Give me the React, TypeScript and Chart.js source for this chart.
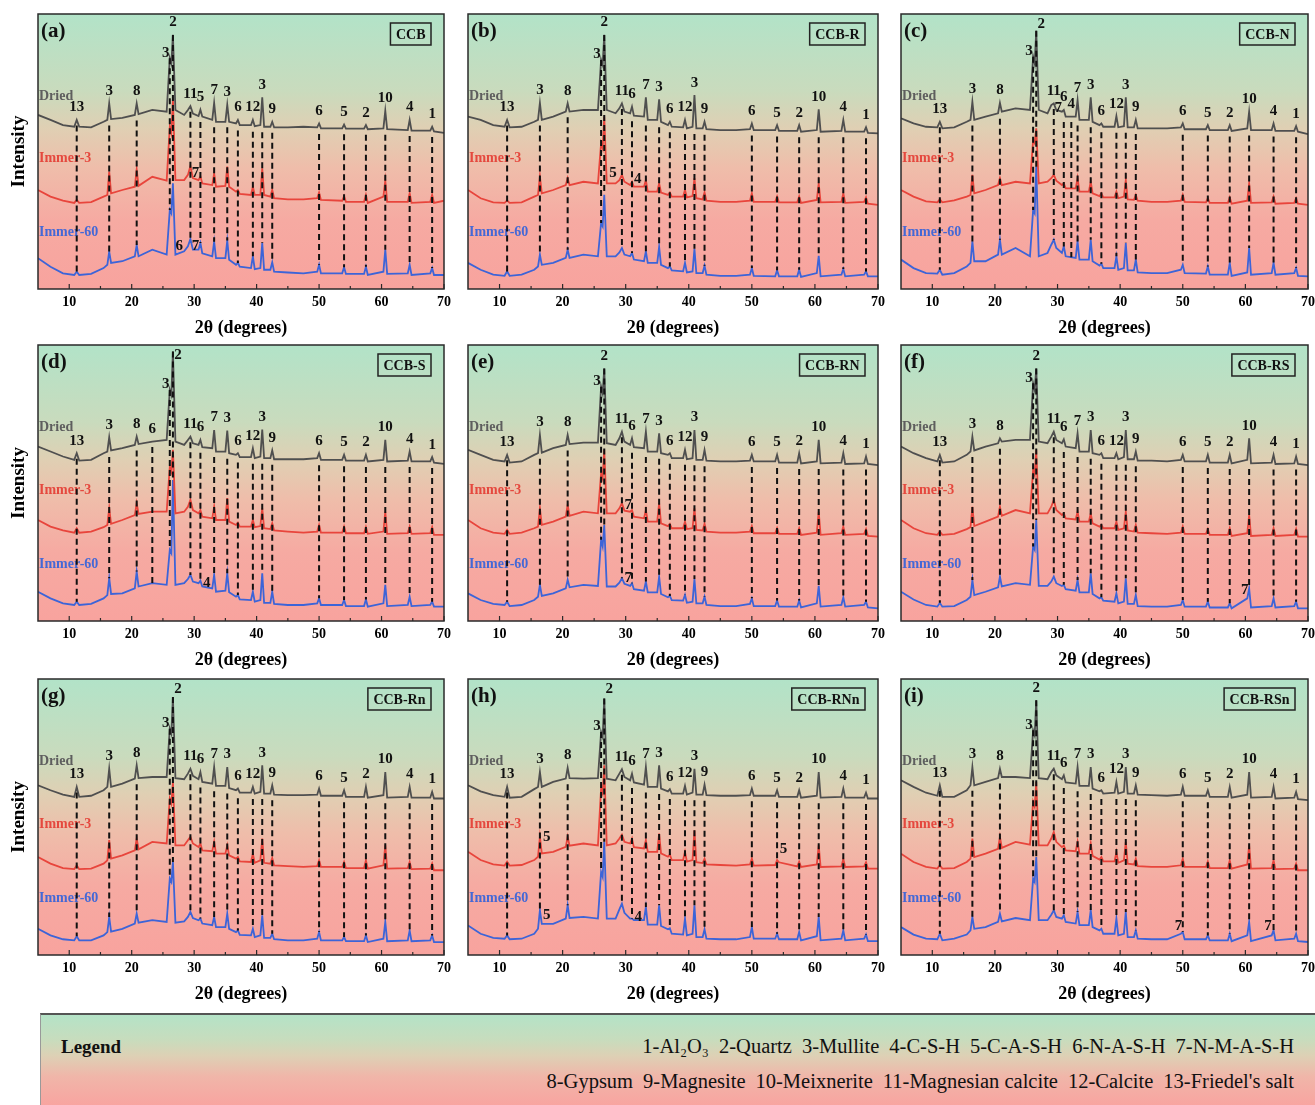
import React, { useEffect, useRef } from "react";
import { Chart, registerables } from "chart.js";

Chart.register(...registerables);

const SERIF = '"Liberation Serif", "Times New Roman", serif';

// 2θ sample positions (degrees)
const twoTheta = [5, 7, 9, 10.8, 11.2, 11.6, 13.5, 15.5, 16.1, 16.4, 16.7, 18.5, 20.5, 20.8, 21.1, 23.3, 25.6, 26.1, 26.35, 26.6, 27.0, 28.4, 29.0, 29.4, 29.8, 30.7, 31.0, 31.3, 32.9, 33.2, 33.5, 35.0, 35.3, 35.6, 36.7, 37.0, 37.3, 39.1, 39.4, 39.7, 40.6, 40.9, 41.2, 42.2, 42.5, 42.8, 45, 47.5, 49.7, 50.0, 50.3, 53.7, 54.0, 54.3, 57.2, 57.5, 57.8, 60.3, 60.6, 60.9, 64.2, 64.5, 64.8, 67.8, 68.1, 68.4, 70];

// (a) CCB
const driedA = [63.3,61.5,59.6, 59.0,61.5,59.0, 58.8,60.8, 61.5,67.5,61.8, 62.2, 63.3,67.5,63.6, 65.1,64.5, 83.9,82.0,92.4,65.1, 63.3, 65.1,66.5,63.8, 62.9,65.2,62.7, 61.5,67.7,60.8, 60.8,67.0,60.8, 60.2,61.5,59.6, 59.6,61.5,59.2, 59.6,69.7,59.0, 59.0,60.8,58.8, 58.8,59.0, 58.8,60.2,58.4, 58.4,59.8,58.3, 58.3,59.6,58.1, 58.4,64.8,58.1, 57.8,61.5,57.6, 57.6,59.0,57.3, 56.8];
const immer3A = [36.0,33.6,32.1, 31.3,32.4,31.3, 31.6,33.6, 34.2,42.7,34.8, 36.0, 37.2,43.5,37.5, 40.8,39.4, 59.0,56.7,69.3,39.6, 39.6, 41.5,44.7,40.3, 39.6,41.0,38.4, 37.8,42.0,37.2, 37.5,44.5,37.2, 35.4,36.0,34.6, 34.2,37.2,34.2, 34.2,43.9,34.2, 33.6,36.0,33.0, 32.6,32.6, 33.0,35.1,32.4, 32.1,33.8,31.7, 31.7,34.2,31.3, 33.6,39.4,31.7, 31.7,34.8,31.3, 31.7,34.2,31.3, 32.1];
const immer60A = [11.2,8.1,5.7, 5.1,6.3,5.1, 5.5,7.6, 8.8,13.6,9.5, 10.1, 11.9,16.0,11.9, 14.3,12.5, 28.7,27.5,38.4,12.5, 13.7, 15.5,18.2,14.3, 14.3,16.7,13.0, 11.9,17.2,11.2, 11.2,17.6,10.6, 8.8,9.5,8.1, 7.6,11.9,7.2, 7.6,16.7,7.0, 7.0,9.7,6.3, 6.0,5.7, 6.3,8.8,5.7, 5.7,7.9,5.5, 5.5,8.1,5.1, 6.3,14.3,5.5, 5.7,8.8,5.1, 5.7,7.6,5.1, 5.1];

// (b) CCB-R
const driedB = [62.7,61.5,59.6, 59.0,61.5,58.8, 59.0,60.8, 61.5,67.7,61.5, 62.7, 64.5,67.5,64.5, 65.1,65.1, 83.3,81.5,92.4,65.1, 63.9, 65.7,67.5,64.5, 63.9,66.3,63.0, 62.7,69.7,61.5, 61.5,69.0,60.8, 59.6,60.8,59.0, 58.8,61.5,58.4, 59.0,70.5,58.4, 58.4,60.8,58.1, 57.8,57.8, 58.1,60.2,57.8, 57.8,59.6,57.5, 57.5,59.6,57.2, 57.8,65.3,57.2, 57.5,61.5,57.2, 57.2,58.8,56.8, 56.6];
const immer3B = [36.0,33.0,31.5, 31.3,32.2,31.3, 31.5,33.6, 34.2,40.9,34.8, 36.0, 37.8,40.3,37.8, 39.0,38.4, 53.0,51.2,62.7,38.4, 38.4, 39.6,41.5,39.0, 37.8,39.0,37.2, 37.2,39.6,35.4, 35.4,38.4,35.1, 34.2,35.1,33.6, 33.6,36.0,33.3, 33.8,40.3,33.0, 32.6,35.1,32.1, 31.7,31.7, 32.1,34.8,31.7, 31.7,33.6,31.5, 31.5,33.6,31.3, 32.4,38.4,31.5, 31.7,34.8,31.3, 31.7,33.3,31.0, 30.6];
const immer60B = [9.5,7.0,5.2, 4.8,6.4,4.8, 5.2,7.0, 8.2,12.5,8.8, 9.5, 11.3,14.3,11.3, 12.5,11.9, 24.0,22.8,34.3,11.9, 11.9, 13.3,14.9,12.5, 11.9,13.1,10.7, 10.1,13.7,9.5, 9.5,15.3,8.8, 7.6,8.2,6.8, 6.4,9.5,6.0, 6.4,14.6,5.8, 5.8,8.5,5.2, 4.8,4.8, 5.2,7.6,4.8, 4.6,6.8,4.6, 4.6,7.0,4.4, 5.8,12.1,4.6, 5.2,7.3,4.6, 5.2,6.4,4.6, 4.6];

// (c) CCB-N
const driedC = [62.1,60.2,59.0, 58.8,60.8,58.4, 58.8,60.8, 61.5,68.1,61.5, 62.7, 63.9,67.7,64.5, 65.7,65.1, 84.5,82.0,93.9,65.1, 63.9, 66.9,67.5,65.1, 64.5,65.1,62.7, 62.7,68.7,61.5, 61.5,69.7,60.8, 59.6,60.2,59.0, 59.0,62.9,58.8, 59.2,69.7,58.8, 58.8,61.5,58.4, 58.4,58.4, 58.8,60.2,58.1, 58.1,59.6,57.8, 57.8,59.6,57.5, 58.4,64.5,57.8, 57.8,60.2,57.5, 57.5,59.2,57.2, 56.3];
const immer3C = [36.0,33.6,31.9, 31.5,32.6,31.5, 32.2,33.6, 34.2,41.5,34.8, 36.0, 37.8,40.3,37.8, 39.0,38.4, 54.2,53.0,58.4,38.4, 39.0, 40.3,41.5,39.4, 37.8,38.4,36.6, 36.6,40.3,35.4, 35.4,39.0,34.8, 33.8,34.8,33.3, 33.3,35.4,33.0, 33.6,39.6,32.6, 32.4,34.2,32.1, 31.7,31.7, 32.1,34.2,31.7, 31.5,33.0,31.3, 31.3,33.3,31.0, 32.1,38.4,31.3, 31.5,33.6,31.0, 31.3,33.0,31.0, 30.6];
const immer60C = [10.7,7.6,5.8, 5.6,7.0,5.2, 5.8,8.2, 9.5,17.3,10.1, 10.1, 12.5,17.9,12.5, 14.9,11.9, 28.7,27.5,44.5,11.9, 13.1, 16.1,17.9,14.9, 13.1,15.5,11.9, 11.3,17.3,10.7, 10.7,17.9,10.1, 8.5,9.2,7.6, 7.6,11.9,7.0, 7.6,16.7,6.8, 6.8,10.7,6.0, 5.8,5.8, 7.0,8.8,5.8, 5.6,8.2,5.2, 5.2,9.5,4.8, 6.0,14.9,5.2, 5.8,9.5,5.2, 5.8,7.6,4.8, 4.6];

// (d) CCB-S
const driedD = [63.2,61.4,59.6, 58.4,60.8,58.1, 58.4,60.8, 61.4,66.6,61.8, 62.6, 63.8,66.8,64.1, 65.0,65.6, 83.7,81.9,97.6,65.0, 63.8, 65.6,66.8,64.4, 63.8,65.6,63.0, 62.6,69.2,61.4, 61.4,69.0,60.8, 60.2,60.8,59.4, 59.4,62.6,59.0, 59.6,69.4,59.0, 59.0,61.8,58.6, 58.6,58.6, 59.0,60.8,58.4, 58.4,60.2,58.1, 58.1,60.2,57.8, 58.4,65.6,57.8, 58.1,61.4,57.8, 57.8,59.4,57.4, 56.9];
const immer3D = [36.6,34.2,32.8, 32.0,33.6,32.0, 32.4,34.0, 34.8,40.8,35.2, 36.6, 38.4,42.7,38.8, 39.6,39.6, 55.9,54.1,62.0,39.0, 39.6, 41.4,43.9,40.2, 39.0,40.2,37.8, 37.2,41.4,36.6, 36.6,44.5,36.0, 34.8,35.6,34.2, 34.2,36.6,34.0, 34.4,40.8,33.6, 33.3,35.4,32.8, 32.4,32.0, 32.4,34.8,32.0, 32.0,34.2,31.8, 31.8,34.0,31.6, 32.4,39.6,31.6, 31.8,34.2,31.6, 31.8,34.0,31.2, 31.2];
const immer60D = [10.6,8.2,6.4, 5.8,7.0,5.8, 6.2,8.2, 9.4,15.5,9.8, 10.0, 11.8,17.9,12.5, 13.7,13.1, 25.8,24.6,51.1,13.1, 13.7, 15.2,16.7,14.3, 13.7,14.6,12.5, 11.8,16.7,10.6, 11.0,17.3,10.4, 8.8,9.4,7.8, 7.6,10.6,7.0, 7.6,17.3,6.6, 6.6,10.6,6.2, 5.8,5.8, 6.4,8.2,5.8, 5.8,7.6,5.4, 5.4,7.8,5.2, 6.4,13.1,5.4, 5.8,8.8,5.4, 5.8,7.0,5.2, 5.2];

// (e) CCB-RN
const driedE = [62.0,60.2,58.4, 57.8,60.2,57.4, 57.8,60.2, 60.8,67.4,61.0, 62.6, 63.8,67.4,64.1, 64.6,64.6, 84.9,82.5,91.5,64.4, 63.8, 66.2,68.6,65.0, 63.8,66.2,63.0, 62.6,68.6,61.4, 61.4,68.0,60.8, 60.2,60.8,59.0, 59.0,62.0,58.6, 59.0,69.2,58.4, 58.4,62.0,58.1, 57.8,57.8, 58.1,60.2,57.8, 57.8,60.2,57.4, 57.4,60.8,57.1, 57.8,65.6,57.1, 57.4,60.8,56.9, 57.1,59.6,56.9, 56.5];
const immer3E = [36.6,33.6,32.0, 31.6,33.0,31.6, 32.0,33.6, 34.2,40.8,34.8, 36.0, 37.8,42.1,38.1, 39.6,39.0, 53.5,51.6,62.0,39.0, 39.0, 40.8,42.7,40.0, 39.6,40.2,37.8, 37.2,40.2,36.0, 36.0,42.7,35.4, 34.4,35.2,33.6, 33.6,36.0,33.3, 33.6,40.8,33.0, 32.8,35.2,32.4, 32.0,32.0, 32.4,34.4,31.8, 31.8,33.6,31.6, 31.6,33.6,31.2, 32.0,39.6,31.2, 31.8,34.2,31.2, 31.6,33.3,30.8, 30.6];
const immer60E = [10.0,7.6,6.2, 5.8,7.0,5.4, 5.8,7.6, 8.8,13.1,9.1, 10.0, 11.8,14.9,12.2, 13.1,12.7, 29.4,27.0,34.8,12.5, 12.5, 13.9,15.5,13.5, 12.7,13.7,11.5, 11.0,14.3,10.4, 10.4,16.1,9.8, 8.6,9.1,7.6, 7.4,9.4,6.6, 7.0,15.2,6.4, 6.4,8.8,5.8, 5.4,5.4, 6.2,8.2,5.4, 5.4,7.4,5.2, 5.2,7.4,4.9, 6.4,12.7,5.2, 5.8,8.6,5.2, 5.8,7.0,4.9, 4.6];

// (f) CCB-RS
const driedF = [63.2,60.8,59.0, 57.8,60.2,57.4, 57.8,60.2, 61.4,66.8,61.8, 63.2, 64.4,66.2,65.0, 65.6,65.6, 86.1,83.7,91.5,65.0, 64.4, 66.8,68.6,65.6, 64.4,65.8,63.2, 62.6,68.0,61.4, 61.4,69.2,60.8, 60.2,60.8,59.0, 59.0,60.8,58.6, 59.4,69.2,58.6, 58.6,61.4,58.1, 58.1,57.8, 58.4,60.2,57.8, 57.8,60.2,57.4, 57.4,60.2,57.1, 58.4,66.2,57.1, 57.4,60.2,56.9, 57.1,59.6,56.9, 56.5];
const immer3F = [36.6,33.6,31.8, 31.2,32.4,31.2, 31.6,33.3, 34.0,41.4,34.4, 36.0, 37.8,41.4,38.1, 40.2,39.0, 54.7,52.9,62.0,39.0, 39.0, 41.4,43.9,40.2, 38.4,39.0,37.2, 36.8,39.6,36.0, 36.0,39.0,35.4, 34.2,34.8,33.6, 33.6,36.0,33.0, 33.6,39.6,32.8, 32.4,34.8,32.0, 31.8,31.6, 32.0,34.2,31.6, 31.6,33.3,31.2, 31.2,33.6,30.8, 31.8,38.4,30.8, 31.2,33.6,30.8, 31.2,33.3,30.6, 30.6];
const immer60F = [10.6,7.8,5.8, 5.2,6.6,5.2, 5.4,7.6, 8.8,14.9,9.4, 10.6, 12.2,16.1,12.5, 13.7,13.1, 27.0,25.8,36.6,12.7, 12.7, 14.3,16.1,13.7, 12.7,13.1,11.5, 11.0,14.9,10.4, 10.4,17.3,9.8, 8.2,8.6,7.4, 7.0,10.0,6.4, 7.0,15.5,6.2, 6.2,9.4,5.4, 5.2,5.2, 5.8,7.6,5.2, 5.2,7.0,4.9, 4.9,6.4,4.6, 8.2,11.8,4.9, 5.4,8.2,4.9, 5.4,7.0,4.6, 4.6];

// (g) CCB-Rn
const driedG = [61.5,59.7,58.1, 57.3,60.9,57.3, 57.7,59.7, 60.9,67.5,60.9, 62.1, 63.9,68.7,64.1, 64.5,64.5, 82.0,80.2,93.5,64.1, 63.7, 65.7,67.5,64.9, 63.7,66.3,62.7, 62.1,68.1,61.3, 61.3,68.1,60.5, 59.7,60.3,58.8, 58.8,60.9,58.5, 59.1,68.7,58.5, 58.5,61.5,58.1, 57.9,57.9, 58.1,60.3,57.7, 57.7,59.7,57.3, 57.3,60.9,57.0, 57.9,66.3,57.0, 57.3,60.9,57.0, 57.0,59.1,56.7, 56.7];
const immer3G = [35.5,33.1,31.5, 31.1,32.5,31.1, 31.3,33.1, 34.3,41.6,34.9, 36.1, 37.9,42.2,38.3, 41.0,40.4, 56.7,54.9,62.7,39.7, 39.7, 41.6,42.8,40.4, 39.1,40.4,37.9, 37.6,41.0,36.7, 36.7,39.7,36.1, 34.9,35.5,33.9, 33.7,36.7,33.4, 34.3,42.2,33.4, 33.1,35.1,32.5, 32.2,31.9, 32.2,34.3,31.9, 31.9,33.7,31.5, 31.5,34.3,31.3, 32.5,39.7,31.3, 31.5,33.7,31.1, 31.3,33.1,30.7, 30.7];
const immer60G = [9.5,7.1,5.7, 5.3,6.8,5.3, 5.3,7.1, 8.3,13.8,8.5, 9.5, 11.4,15.0,11.7, 12.6,12.0, 27.7,26.5,33.7,11.7, 12.2, 13.8,15.6,13.4, 12.6,13.2,11.4, 10.8,13.8,10.1, 10.1,15.0,9.5, 8.3,8.9,7.3, 7.1,9.5,6.5, 7.1,14.4,6.2, 6.2,7.7,5.7, 5.3,5.3, 5.9,8.3,5.3, 5.3,6.5,5.0, 5.0,7.1,4.7, 5.9,12.0,5.0, 5.3,8.9,5.0, 5.3,7.1,4.7, 4.7];

// (h) CCB-RNn
const driedH = [61.5,59.3,57.9, 57.3,60.9,57.0, 57.3,60.1, 60.9,66.3,60.9, 62.7, 63.9,67.8,64.1, 63.9,64.1, 80.8,79.0,92.9,63.9, 63.3, 65.7,67.3,64.5, 63.3,65.7,62.5, 61.7,68.1,60.9, 60.9,68.7,60.3, 59.3,60.1,58.5, 58.5,61.3,58.1, 58.8,67.5,58.1, 58.1,61.7,57.9, 57.7,57.7, 57.9,60.3,57.7, 57.7,59.7,57.3, 57.3,59.7,57.0, 57.7,66.3,57.0, 57.3,60.3,57.0, 57.0,58.8,56.7, 56.7];
const immer3H = [37.4,34.4,32.8, 32.4,33.8,32.4, 32.6,34.4, 35.6,42.8,36.8, 37.4, 39.2,42.8,39.6, 40.4,39.7, 60.3,58.5,68.7,39.7, 40.4, 42.2,43.6,41.0, 40.4,42.2,39.1, 38.6,41.6,37.4, 37.4,44.0,36.8, 35.6,36.4,34.4, 34.4,37.4,33.8, 34.4,45.2,33.6, 33.3,34.9,32.8, 32.6,32.4, 32.8,34.9,32.4, 32.6,34.4,33.6, 32.1,33.8,31.9, 32.8,39.7,31.9, 32.1,34.8,31.9, 32.1,33.6,31.3, 31.3];
const immer60H = [10.7,7.7,6.2, 5.9,7.1,5.7, 5.9,7.7, 9.5,16.2,11.3, 11.3, 13.2,18.0,13.4, 13.8,13.2, 30.1,28.3,41.0,13.2, 13.2, 16.5,18.6,15.3, 13.2,13.2,12.6, 12.6,17.4,11.0, 11.0,18.0,10.5, 9.3,9.7,7.7, 7.4,13.2,7.1, 7.7,18.0,6.5, 6.5,9.3,5.9, 5.7,5.7, 6.5,10.1,5.9, 5.9,7.7,5.7, 5.7,8.3,5.3, 6.8,13.8,5.3, 5.9,8.9,5.3, 5.9,7.4,5.0, 5.0];

// (i) CCB-RSn
const driedI = [63.3,60.9,58.8, 57.7,61.5,57.3, 57.3,59.7, 61.5,68.1,61.5, 62.7, 64.1,67.5,64.5, 64.5,64.1, 81.4,79.6,92.3,64.1, 63.7, 66.3,67.5,65.1, 63.7,65.1,62.5, 62.1,68.1,61.3, 61.3,68.1,60.3, 59.3,59.7,58.5, 58.8,62.7,58.5, 59.1,68.1,58.5, 58.5,61.5,58.1, 57.9,57.7, 58.1,60.9,57.7, 57.7,59.7,57.3, 57.3,60.9,57.0, 58.1,66.3,57.0, 57.3,60.9,56.7, 57.0,59.1,56.5, 56.1];
const immer3I = [36.7,33.7,31.9, 31.3,32.5,31.3, 31.5,33.7, 34.9,42.2,35.5, 36.7, 38.5,42.8,38.8, 41.0,40.0, 55.5,53.7,62.7,39.7, 39.7, 42.2,44.6,41.0, 39.1,39.7,37.9, 37.6,41.0,36.7, 36.7,40.4,35.9, 34.6,35.5,33.9, 33.9,37.3,33.4, 34.3,41.0,33.1, 32.8,34.9,32.2, 31.9,31.9, 32.5,34.9,31.9, 31.9,33.9,31.5, 31.5,34.3,31.3, 32.8,39.7,31.3, 31.5,34.3,31.1, 31.3,33.1,30.7, 30.7];
const immer60I = [10.1,7.4,5.9, 5.7,7.7,5.3, 5.9,7.4, 8.9,13.8,9.5, 10.1, 12.0,15.0,12.2, 13.4,12.6, 27.7,26.5,35.5,12.6, 12.6, 14.6,16.2,13.8, 13.2,14.4,12.0, 11.4,15.6,10.8, 10.8,16.2,10.1, 8.9,9.5,7.7, 7.7,13.2,7.1, 7.7,15.6,6.5, 6.5,8.9,5.9, 5.7,5.7, 7.7,8.3,5.7, 5.7,7.1,5.3, 5.3,7.7,5.0, 7.1,12.0,5.0, 7.1,8.9,5.3, 5.9,7.7,5.0, 4.7];

const panelLetters = ["(a)", "(b)", "(c)", "(d)", "(e)", "(f)", "(g)", "(h)", "(i)"];
const sampleNames = ["CCB", "CCB-R", "CCB-N", "CCB-S", "CCB-RN", "CCB-RS", "CCB-Rn", "CCB-RNn", "CCB-RSn"];
const seriesNames = ["Dried", "Immer-3", "Immer-60"];
const xTickValues = [10, 20, 30, 40, 50, 60, 70];
const xMinorTickValues = [15, 25, 35, 45, 55, 65];

// reflection markers (2θ) and phase numbers
const markerPositions = [11.2, 16.4, 20.8, 26.1, 26.6, 29.4, 31.0, 33.2, 35.3, 37.0, 39.4, 40.9, 42.5, 50.0, 54.0, 57.5, 60.6, 64.5, 68.1];
const markerNumbersA = ["13", "3", "8", "3", "2", "11", "5", "7", "3", "6", "12", "3", "9", "6", "5", "2", "10", "4", "1"];
const markerNumbers = ["13", "3", "8", "3", "2", "11", "6", "7", "3", "6", "12", "3", "9", "6", "5", "2", "10", "4", "1"];
const extraMarkersC: [number, string][] = [[32.2, "4"]];
const extraMarkersD: [number, string][] = [[23.3, "6"]];

// phase notes next to the immersed traces: [2θ, intensity, number]
const notesA: [number, number, string][] = [[30.2, 42.3, "7"], [27.6, 15.5, "6"], [30.2, 15.5, "7"]];
const notesB: [number, number, string][] = [[28.0, 42.1, "5"], [31.9, 39.8, "4"]];
const notesC: [number, number, string][] = [[30.1, 65.6, "7"]];
const notesD: [number, number, string][] = [[32.0, 13.9, "4"]];
const notesE: [number, number, string][] = [[30.4, 42.0, "7"], [30.4, 15.5, "7"]];
const notesF: [number, number, string][] = [[59.9, 11.2, "7"]];
const notesG: [number, number, string][] = [];
const notesH: [number, number, string][] = [[17.5, 42.8, "5"], [55.0, 38.5, "5"], [17.5, 14.4, "5"], [32.0, 13.8, "4"]];
const notesI: [number, number, string][] = [[49.3, 10.5, "7"], [63.6, 10.5, "7"]];

const legendLine1 = ["1-Al\u2082O\u2083", "2-Quartz", "3-Mullite", "4-C-S-H", "5-C-A-S-H", "6-N-A-S-H", "7-N-M-A-S-H"];
const legendLine2 = ["8-Gypsum", "9-Magnesite", "10-Meixnerite", "11-Magnesian calcite", "12-Calcite", "13-Friedel's salt"];

const zipMarkers = (labels: string[], extra: [number, string][] = []) =>
  [...markerPositions.map((x, i) => [x, labels[i]] as [number, string]), ...extra];

const panels = [
  { series: [driedA, immer3A, immer60A], markers: zipMarkers(markerNumbersA), notes: notesA },
  { series: [driedB, immer3B, immer60B], markers: zipMarkers(markerNumbers), notes: notesB },
  { series: [driedC, immer3C, immer60C], markers: zipMarkers(markerNumbers, extraMarkersC), notes: notesC },
  { series: [driedD, immer3D, immer60D], markers: zipMarkers(markerNumbers, extraMarkersD), notes: notesD },
  { series: [driedE, immer3E, immer60E], markers: zipMarkers(markerNumbers), notes: notesE },
  { series: [driedF, immer3F, immer60F], markers: zipMarkers(markerNumbers), notes: notesF },
  { series: [driedG, immer3G, immer60G], markers: zipMarkers(markerNumbers), notes: notesG },
  { series: [driedH, immer3H, immer60H], markers: zipMarkers(markerNumbers), notes: notesH },
  { series: [driedI, immer3I, immer60I], markers: zipMarkers(markerNumbers), notes: notesI },
];

// layout (pixels)
const colLeft = [38, 468, 901];
const colWidth = [406, 410, 407];
const rowTop = [14, 345, 679];
const rowHeight = [275, 276, 276];
const PAD_L = 36, PAD_T = 12, PAD_R = 12, PAD_B = 58;

const lineColors = ["#4f4f4f", "#e8453c", "#3c64d8"];
const labelColors = ["#5e5e5e", "#e5483e", "#4468d6"];
const seriesLabelY = [70, 47.5, 20.5];

function valueAt(vals: number[], x: number, mode: "max" | "min") {
  const near: number[] = [];
  twoTheta.forEach((t, i) => { if (Math.abs(t - x) <= 0.36) near.push(vals[i]); });
  if (near.length) return mode === "max" ? Math.max(...near) : Math.min(...near);
  const i = twoTheta.findIndex((t) => t > x);
  const x0 = twoTheta[i - 1], x1 = twoTheta[i];
  return vals[i - 1] + ((vals[i] - vals[i - 1]) * (x - x0)) / (x1 - x0);
}

const backgroundPlugin = {
  id: "xrdBackground",
  beforeDraw(chart: any) {
    const { ctx, chartArea: a } = chart;
    const g = ctx.createLinearGradient(0, a.top, 0, a.bottom);
    g.addColorStop(0, "#b2e3c8");
    g.addColorStop(0.28, "#c9dbbd");
    g.addColorStop(0.42, "#e0cfb3");
    g.addColorStop(0.56, "#efbdaa");
    g.addColorStop(0.75, "#f6aaa2");
    g.addColorStop(1, "#f8a39e");
    ctx.save();
    ctx.fillStyle = g;
    ctx.fillRect(a.left, a.top, a.right - a.left, a.bottom - a.top);
    ctx.restore();
  },
};

function makeAnnotationPlugin(idx: number, col: number) {
  const panel = panels[idx];
  return {
    id: "xrdAnnotations",
    afterDraw(chart: any) {
      const { ctx, chartArea: a } = chart;
      const xs = chart.scales.x, ys = chart.scales.y;
      const px = (v: number) => xs.getPixelForValue(v);
      const py = (v: number) => ys.getPixelForValue(v);
      const [dried, , blue] = panel.series;
      ctx.save();

      // series names
      ctx.textAlign = "left";
      ctx.textBaseline = "middle";
      ctx.font = `bold 14px ${SERIF}`;
      seriesNames.forEach((n, k) => {
        ctx.fillStyle = labelColors[k];
        ctx.fillText(n, a.left + 1, py(seriesLabelY[k]));
      });

      // dashed reflection lines
      ctx.strokeStyle = "#111";
      ctx.lineWidth = 2;
      ctx.setLineDash([6, 4]);
      panel.markers.forEach(([x]) => {
        const through = x === 26.1 || x === 26.6;
        const top = through ? valueAt(dried, x, "max") : valueAt(dried, x, "min") - 2;
        const bottom = valueAt(blue, x, "max");
        ctx.beginPath();
        ctx.moveTo(px(x), py(top));
        ctx.lineTo(px(x), py(bottom));
        ctx.stroke();
      });
      ctx.setLineDash([]);

      // marker numbers
      ctx.fillStyle = "#111";
      ctx.font = `bold 15px ${SERIF}`;
      ctx.textAlign = "center";
      panel.markers.forEach(([x, t]) => {
        const apex = valueAt(dried, x, "max");
        let lx = x, ly = apex + 4.5;
        if (x === 26.1) { lx = x - 0.65; ly = apex + 2; }
        if (ly > 97) { ly = 96.5; lx = x + 0.8; }
        ctx.fillText(t, px(lx), py(ly));
      });
      panel.notes.forEach(([x, y, t]) => ctx.fillText(t, px(x), py(y)));

      // panel letter
      ctx.textAlign = "left";
      ctx.font = `bold 21px ${SERIF}`;
      ctx.fillText(panelLetters[idx], a.left + 3, a.top + 18);

      // sample name box
      ctx.font = `bold 14px ${SERIF}`;
      const tw = ctx.measureText(sampleNames[idx]).width;
      const bw = tw + 11, bh = 22;
      const bx = a.right - 13 - bw, by = a.top + 9;
      ctx.strokeStyle = "#222";
      ctx.lineWidth = 1.5;
      ctx.strokeRect(bx, by, bw, bh);
      ctx.textAlign = "center";
      ctx.fillText(sampleNames[idx], bx + bw / 2, by + bh / 2 + 1);

      // frame
      ctx.strokeStyle = "#2a2a2a";
      ctx.lineWidth = 1.5;
      ctx.strokeRect(a.left, a.top, a.right - a.left, a.bottom - a.top);

      // inward ticks
      ctx.lineWidth = 1.2;
      xTickValues.forEach((v) => {
        ctx.beginPath();
        ctx.moveTo(px(v), a.bottom);
        ctx.lineTo(px(v), a.bottom - 5);
        ctx.stroke();
      });
      xMinorTickValues.forEach((v) => {
        ctx.beginPath();
        ctx.moveTo(px(v), a.bottom);
        ctx.lineTo(px(v), a.bottom - 3);
        ctx.stroke();
      });

      // y title
      if (col === 0) {
        ctx.save();
        ctx.translate(a.left - 19, (a.top + a.bottom) / 2);
        ctx.rotate(-Math.PI / 2);
        ctx.font = `bold 19px ${SERIF}`;
        ctx.fillStyle = "#000";
        ctx.textAlign = "center";
        ctx.textBaseline = "middle";
        ctx.fillText("Intensity", 0, 0);
        ctx.restore();
      }
      ctx.restore();
    },
  };
}

function XrdPanel({ idx }: { idx: number }) {
  const ref = useRef<HTMLCanvasElement>(null);
  const col = idx % 3, row = Math.floor(idx / 3);
  const w = colWidth[col] + PAD_L + PAD_R;
  const h = rowHeight[row] + PAD_T + PAD_B;
  useEffect(() => {
    if (!ref.current) return;
    const panel = panels[idx];
    const chart = new Chart(ref.current, {
      type: "line",
      data: {
        datasets: panel.series.map((vals, k) => ({
          label: seriesNames[k],
          data: twoTheta.map((x, i) => ({ x, y: vals[i] })),
          borderColor: lineColors[k],
          borderWidth: 1.8,
          pointRadius: 0,
          tension: 0,
          fill: false,
        })),
      },
      options: {
        responsive: false,
        animation: false,
        layout: { padding: { left: PAD_L, top: PAD_T, right: PAD_R, bottom: 0 } },
        plugins: { legend: { display: false }, tooltip: { enabled: false } },
        scales: {
          x: {
            type: "linear",
            min: 5,
            max: 70,
            afterBuildTicks: (s: any) => { s.ticks = xTickValues.map((v) => ({ value: v })); },
            afterFit: (s: any) => { s.height = PAD_B; },
            grid: { display: false, drawTicks: false },
            border: { display: false },
            ticks: { color: "#000", font: { family: SERIF, size: 14, weight: "bold" }, padding: 5, maxRotation: 0, autoSkip: false },
            title: { display: true, text: "2\u03b8 (degrees)", color: "#000", font: { family: SERIF, size: 18, weight: "bold" }, padding: { top: 0, bottom: 8 } },
          },
          y: { display: false, min: 0, max: 100 },
        },
      } as any,
      plugins: [backgroundPlugin, makeAnnotationPlugin(idx, col)],
    });
    return () => chart.destroy();
  }, [idx]);
  return (
    <canvas
      ref={ref}
      width={w}
      height={h}
      style={{ position: "absolute", left: colLeft[col] - PAD_L, top: rowTop[row] - PAD_T, width: w, height: h }}
    />
  );
}

function LegendBox() {
  const item = (t: string, i: number) => (
    <span key={t} style={{ marginLeft: i === 0 ? 0 : 10 }}>{t}</span>
  );
  return (
    <div
      style={{
        position: "absolute",
        left: 40,
        top: 1013,
        width: 1275,
        height: 92,
        boxSizing: "border-box",
        borderTop: "2px solid #555",
        borderLeft: "1px solid #999",
        background: "linear-gradient(to bottom, #b4e3c7 0%, #c8dcbd 28%, #ddd1b5 45%, #f0b6a9 68%, #f8a4a0 100%)",
        fontFamily: SERIF,
        color: "#111",
      }}
    >
      <div style={{ position: "absolute", left: 20, top: 21, fontSize: 19, fontWeight: "bold", lineHeight: "22px" }}>Legend</div>
      <div style={{ position: "absolute", right: 21, top: 20, fontSize: 20.5, lineHeight: "23px", whiteSpace: "nowrap" }}>
        {legendLine1.map(item)}
      </div>
      <div style={{ position: "absolute", right: 21, top: 55, fontSize: 20.5, lineHeight: "23px", whiteSpace: "nowrap" }}>
        {legendLine2.map(item)}
      </div>
    </div>
  );
}

export default function App() {
  return (
    <div style={{ position: "absolute", left: 0, top: 0, width: 1315, height: 1105, overflow: "hidden", background: "#fff" }}>
      {panels.map((_, i) => <XrdPanel key={i} idx={i} />)}
      <LegendBox />
    </div>
  );
}
